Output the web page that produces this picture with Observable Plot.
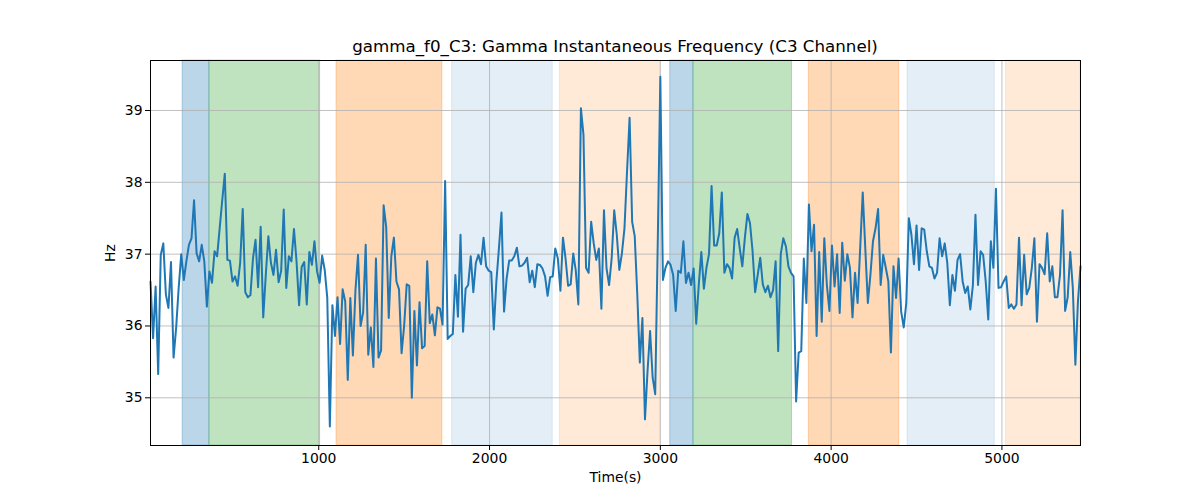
<!DOCTYPE html>
<html>
<head>
<meta charset="utf-8">
<script src="https://cdn.jsdelivr.net/npm/d3@7"></script>
<script src="https://cdn.jsdelivr.net/npm/@observablehq/plot@0.6"></script>
<style>
  html, body { margin: 0; padding: 0; background: white; }
  #title { width: 930px; padding-left: 150px; height: 56px; display: flex; align-items: flex-end; justify-content: center;
           font-family: "DejaVu Sans", sans-serif; font-size: 16.7px; line-height: 20px; color: black; }
  #title span { display: block; width: 100%; text-align: center; }
</style>
</head>
<body>
<div id="title"><span>gamma_f0_C3: Gamma Instantaneous Frequency (C3 Channel)</span></div>
<div id="chart"></div>
<script>
// Sample times: every 15 s, starting at 15 s
const timeStep = 15;
const timeStart = 15;

// Instantaneous frequency values (Hz)
const freqValues = [
  36.62,35.83,36.55,35.33,36.99,37.15,36.44,36.25,36.89,35.56,
  35.97,36.53,37.00,36.64,36.90,37.13,37.22,37.75,37.01,36.90,
  37.13,36.90,36.27,36.76,36.60,37.04,36.97,37.36,37.75,38.12,
  36.92,36.91,36.62,36.69,36.56,36.88,37.63,36.47,36.40,36.43,
  36.94,37.20,36.54,37.38,36.12,36.71,37.25,36.88,36.71,37.06,
  36.61,36.77,37.62,36.53,36.97,36.90,37.35,36.90,36.29,36.82,
  36.89,36.30,37.03,
  36.85,37.18,36.76,36.60,36.98,36.78,36.39,34.60,36.29,35.86,
  36.40,35.75,36.51,36.34,35.25,36.39,35.59,36.50,36.99,36.00,
  36.19,37.13,35.60,35.98,35.43,36.94,35.56,35.66,37.68,37.38,
  36.11,36.97,37.23,36.62,36.51,35.62,36.00,36.58,36.56,35.00,
  36.21,35.45,36.33,35.69,35.72,36.90,36.04,36.16,35.87,36.26,
  36.24,36.02,38.02,35.82,35.86,35.89,36.71,36.13,37.27,35.92,
  36.52,36.57,36.97,
  36.47,36.88,36.99,36.86,37.23,36.83,36.77,36.75,35.95,36.62,
  37.08,37.58,36.20,36.66,36.91,36.91,36.97,37.09,36.83,36.84,
  36.88,36.95,36.61,36.77,36.54,36.86,36.85,36.80,36.69,36.42,
  36.68,36.69,37.08,36.94,36.49,37.23,36.94,36.56,36.58,37.01,
  36.77,36.30,39.03,38.66,36.81,36.74,37.45,37.15,36.92,37.08,
  36.24,37.61,36.80,36.57,36.94,37.61,37.27,36.78,37.01,37.36,
  38.15,38.90,
  37.45,37.25,36.44,35.49,36.11,34.70,35.37,35.93,35.28,35.05,
  37.18,39.47,36.64,36.81,36.90,36.85,36.71,36.21,36.77,36.74,
  37.18,36.60,36.74,36.57,36.80,36.03,36.57,37.03,36.52,36.81,
  37.00,37.95,37.12,37.12,37.29,37.86,36.74,36.86,36.81,36.66,
  37.23,37.35,37.08,36.83,37.23,37.56,37.43,37.04,36.47,36.71,
  36.95,36.58,36.47,36.56,36.40,36.50,36.90,35.65,37.00,37.22,
  37.11,36.83,36.74,
  36.69,34.95,35.63,35.65,36.94,36.32,37.69,37.04,37.41,35.86,
  37.03,36.06,37.22,36.57,36.21,37.12,36.55,37.00,36.18,37.16,
  36.63,37.00,36.81,36.12,36.74,36.32,37.08,37.86,37.08,36.32,
  36.71,37.18,37.36,37.63,36.57,36.99,36.81,36.62,35.63,36.83,
  36.39,36.94,36.20,35.98,36.32,37.50,37.27,36.86,37.40,36.78,
  37.36,37.34,37.04,36.83,36.81,36.66,36.74,37.22,36.97,37.15,
  36.88,36.29,
  36.71,36.49,36.92,37.00,36.62,36.46,36.55,36.23,36.57,37.55,
  36.57,37.04,36.99,36.62,36.09,37.18,36.81,37.91,36.53,36.54,
  36.62,36.69,36.25,36.30,36.24,36.30,37.23,36.29,36.99,36.44,
  36.53,36.81,37.22,36.06,36.86,36.81,36.72,37.29,36.62,36.83,
  36.40,36.40,36.71,37.61,36.21,36.40,37.03,36.53,35.46,36.34,
  36.83
];

// Shaded intervals (seconds) and their kind
const spanStart = [203, 360, 1104, 1781, 2412, 3058, 3194, 3869, 4448, 5024];
const spanEnd   = [360, 1008, 1724, 2370, 3000, 3194, 3771, 4399, 4958, 5460];
const spanKind  = ["blue", "green", "orange", "lightblue", "lightorange",
                   "blue", "green", "orange", "lightblue", "lightorange"];

// Tick labels
const xTicks = [1000, 2000, 3000, 4000, 5000];
const yTicks = [35, 36, 37, 38, 39];

const xDomain = [15, 5460];
const yDomain = [34.336, 39.696];

const series = freqValues.map((v, i) => ({t: timeStart + i * timeStep, f: v}));
const spans = spanStart.map((s, i) => ({start: s, end: spanEnd[i], kind: spanKind[i]}));

const kindColor = {blue: "#1f77b4", green: "#2ca02c", orange: "#ff7f0e", lightblue: "#1f77b4", lightorange: "#ff7f0e"};
const kindAlpha = {blue: 0.3, green: 0.3, orange: 0.3, lightblue: 0.12, lightorange: 0.16};

const fmt = d => String(d);

const chart = Plot.plot({
  width: 1200,
  height: 444,
  marginLeft: 150,
  marginRight: 120,
  marginTop: 4,
  marginBottom: 55,
  style: {fontFamily: "DejaVu Sans, sans-serif", fontSize: "13.9px", color: "black", background: "white", overflow: "visible"},
  x: {domain: xDomain, label: null},
  y: {domain: yDomain, label: null},
  marks: [
    Plot.rect(spans, {x1: "start", x2: "end", fill: d => kindColor[d.kind], fillOpacity: d => kindAlpha[d.kind],
                      stroke: d => kindColor[d.kind], strokeOpacity: d => kindAlpha[d.kind], strokeWidth: 1}),
    Plot.gridX(xTicks, {stroke: "#b0b0b0", strokeOpacity: 1, strokeWidth: 0.8}),
    Plot.gridY(yTicks, {stroke: "#b0b0b0", strokeOpacity: 1, strokeWidth: 0.8}),
    Plot.line(series, {x: "t", y: "f", stroke: "#1f77b4", strokeWidth: 2, strokeLinejoin: "round"}),
    Plot.frame({stroke: "black", strokeWidth: 1}),
    Plot.axisX(xTicks, {tickSize: 5, tickPadding: 3, stroke: "black", tickFormat: fmt, label: null}),
    Plot.axisY(yTicks, {tickSize: 5, tickPadding: 3, stroke: "black", tickFormat: fmt, label: null}),
    Plot.text(["Time(s)"], {frameAnchor: "bottom", dy: 36, fill: "black"}),
    Plot.text(["Hz"], {frameAnchor: "left", dx: -40, dy: 9, rotate: -90, fill: "black"})
  ]
});
document.getElementById("chart").appendChild(chart);
</script>
</body>
</html>
